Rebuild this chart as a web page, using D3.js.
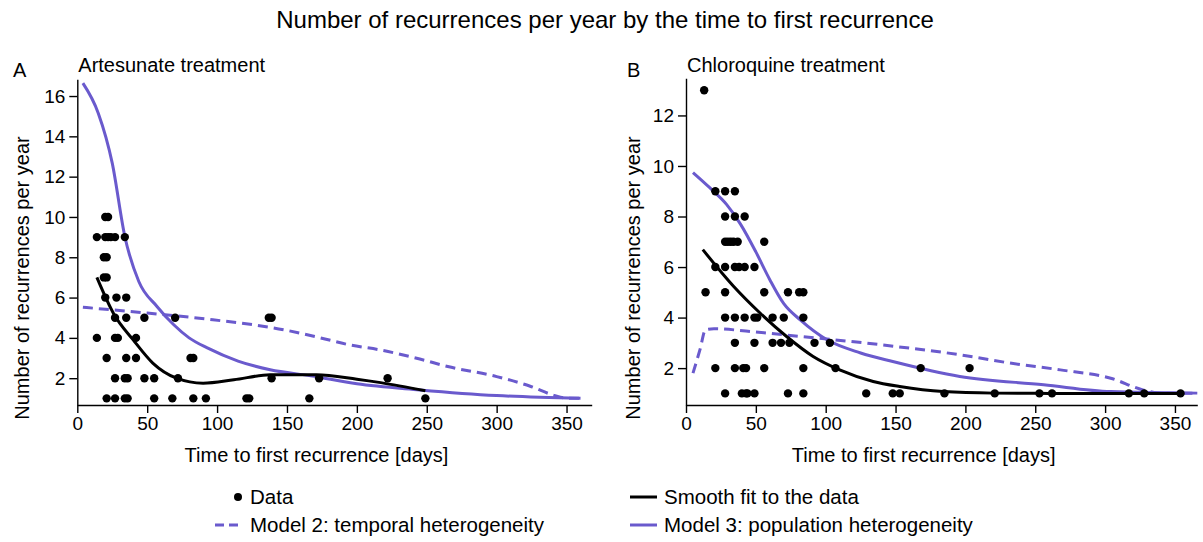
<!DOCTYPE html>
<html lang="en">
<head>
<meta charset="UTF-8" />
<title>Recurrences per year</title>
<script src="https://d3js.org/d3.v7.min.js"></script>
<style>
    body { margin: 0; background: #fff; }
    svg { font-family: "Liberation Sans", Arial, Helvetica, sans-serif; }
    .axis path, .axis line { stroke: #000; stroke-width: 1.4; }
    .axis text { font-size: 19px; fill: #000; }
</style>
</head>
<body>
<svg width="1203" height="542"></svg>
<script>
// ---- data ----
const xTicks = [0, 50, 100, 150, 200, 250, 300, 350];
const yTicksA = [2, 4, 6, 8, 10, 12, 14, 16];
const yTicksB = [2, 4, 6, 8, 10, 12];

// Panel A: artesunate, observed points
const artDays = [20, 22, 14, 20, 22, 24, 27, 34, 19, 21, 19, 21, 20, 28, 35,
    27, 35, 48, 70, 137, 139, 14, 27, 29, 42, 21, 35, 42, 81, 83,
    27, 34, 36, 48, 55, 72, 139, 173, 222,
    21, 27, 34, 36, 55, 68, 83, 92, 121, 123, 166, 249];
const artRec = [10, 10, 9, 9, 9, 9, 9, 9, 8, 8, 7, 7, 6, 6, 6,
    5, 5, 5, 5, 5, 5, 4, 4, 4, 4, 3, 3, 3, 3, 3,
    2, 2, 2, 2, 2, 2, 2, 2, 2,
    1, 1, 1, 1, 1, 1, 1, 1, 1, 1, 1, 1];

const artSmoothDays = [14, 26, 40, 54, 71, 90, 112, 138, 171, 200, 217, 249];
const artSmoothVals = [7.0, 5.2, 3.9, 2.75, 2.0, 1.75, 1.92, 2.17, 2.17, 1.95, 1.78, 1.38];

const artM2Days = [4, 50, 97, 148, 174, 195, 217, 245, 265, 300, 324, 341, 351, 360];
const artM2Vals = [5.52, 5.23, 4.9, 4.4, 4.0, 3.65, 3.4, 2.95, 2.58, 2.08, 1.6, 1.15, 1.0, 1.0];

const artM3Days = [4, 15, 25, 34, 44, 57, 69, 80, 93, 115, 138, 167, 200, 245, 300, 360];
const artM3Vals = [16.64, 15.15, 12.67, 9.03, 6.8, 5.56, 4.65, 4.0, 3.5, 2.85, 2.42, 2.12, 1.72, 1.42, 1.14, 1.0];

// Panel B: chloroquine, observed points
const chlDays = [13, 21, 28, 35, 28, 35, 42, 28, 30, 32, 34, 37, 56,
    21, 28, 35, 38, 42, 49, 14, 28, 56, 73, 81, 84,
    28, 35, 42, 49, 51, 62, 70, 84, 35, 49, 62, 68, 74, 92, 103,
    21, 35, 41, 43, 56, 84, 107, 168, 203,
    28, 40, 43, 44, 49, 73, 84, 129, 148, 153, 185, 221, 253, 262, 317, 328, 354];
const chlRec = [13, 9, 9, 9, 8, 8, 8, 7, 7, 7, 7, 7, 7,
    6, 6, 6, 6, 6, 6, 5, 5, 5, 5, 5, 5,
    4, 4, 4, 4, 4, 4, 4, 4, 3, 3, 3, 3, 3, 3, 3,
    2, 2, 2, 2, 2, 2, 2, 2, 2,
    1, 1, 1, 1, 1, 1, 1, 1, 1, 1, 1, 1, 1, 1, 1, 1, 1];

const chlSmoothDays = [12, 34, 53, 72, 91, 110, 134, 153, 184, 220, 260, 300, 354];
const chlSmoothVals = [6.69, 5.24, 4.18, 3.25, 2.46, 1.93, 1.47, 1.27, 1.07, 1.01, 1.0, 1.0, 1.0];

const chlM2Days = [5, 10, 14, 20, 46, 82, 117, 160, 196, 232, 268, 304, 327, 339, 365];
const chlM2Vals = [1.8, 2.73, 3.52, 3.56, 3.45, 3.25, 3.06, 2.79, 2.53, 2.2, 1.93, 1.6, 1.14, 1.01, 1.0];

const chlM3Days = [5, 17, 29, 39, 50, 60, 70, 82, 101, 125, 148, 196, 256, 304, 366];
const chlM3Vals = [9.74, 9.14, 8.48, 7.7, 6.6, 5.5, 4.55, 3.9, 3.12, 2.6, 2.26, 1.67, 1.34, 1.07, 1.01];

const purple = "#6a5acd";

const svg = d3.select("svg");

svg.append("text")
    .attr("x", 605)
    .attr("y", 28)
    .attr("text-anchor", "middle")
    .attr("font-size", "24px")
    .text("Number of recurrences per year by the time to first recurrence");

function zip(a, b) {
    return a.map((v, i) => ({ x: v, y: b[i] }));
}

function drawPanel(p) {
    const x = d3.scaleLinear().domain([0, p.xMax]).range([p.left, p.right]);
    const y = d3.scaleLinear().domain([p.yMin, p.yMax]).range([405, p.top]);
    const g = svg.append("g");

    g.append("g")
        .attr("class", "axis")
        .attr("transform", "translate(0,405)")
        .call(d3.axisBottom(x).tickValues(xTicks).tickSize(8).tickSizeOuter(0).tickPadding(4));

    g.append("g")
        .attr("class", "axis")
        .attr("transform", `translate(${p.left},0)`)
        .call(d3.axisLeft(y).tickValues(p.yTicks).tickSize(8).tickSizeOuter(0).tickPadding(4));

    const line = d3.line()
        .x(d => x(d.x))
        .y(d => y(d.y))
        .curve(d3.curveMonotoneX);

    g.append("path")
        .datum(zip(p.m2Days, p.m2Vals))
        .attr("d", line)
        .attr("fill", "none")
        .attr("stroke", purple)
        .attr("stroke-width", 3)
        .attr("stroke-dasharray", "10,6");

    g.append("path")
        .datum(zip(p.m3Days, p.m3Vals))
        .attr("d", line)
        .attr("fill", "none")
        .attr("stroke", purple)
        .attr("stroke-width", 3);

    g.append("path")
        .datum(zip(p.smDays, p.smVals))
        .attr("d", line)
        .attr("fill", "none")
        .attr("stroke", "#000")
        .attr("stroke-width", 3);

    g.selectAll("circle")
        .data(zip(p.days, p.rec))
        .enter()
        .append("circle")
        .attr("cx", d => x(d.x))
        .attr("cy", d => y(d.y))
        .attr("r", 4.2)
        .attr("fill", "#000");

    g.append("text")
        .attr("x", p.left + 1)
        .attr("y", 72)
        .attr("font-size", "20px")
        .text(p.title);

    g.append("text")
        .attr("x", p.letterX)
        .attr("y", 77)
        .attr("font-size", "20px")
        .text(p.letter);

    g.append("text")
        .attr("x", (p.left + p.right) / 2 - 18)
        .attr("y", 462)
        .attr("text-anchor", "middle")
        .attr("font-size", "20px")
        .text("Time to first recurrence [days]");

    g.append("text")
        .attr("transform", `translate(${p.ylabX},278) rotate(-90)`)
        .attr("text-anchor", "middle")
        .attr("font-size", "20px")
        .text("Number of recurrences per year");
}

drawPanel({
    left: 77.3, right: 591.7, top: 79.3, xMax: 368, yMin: 0.67, yMax: 16.83,
    yTicks: yTicksA, days: artDays, rec: artRec,
    smDays: artSmoothDays, smVals: artSmoothVals,
    m2Days: artM2Days, m2Vals: artM2Vals, m3Days: artM3Days, m3Vals: artM3Vals,
    title: "Artesunate treatment", letter: "A", letterX: 13, ylabX: 29
});

drawPanel({
    left: 686, right: 1197.3, top: 78.3, xMax: 366, yMin: 0.54, yMax: 13.47,
    yTicks: yTicksB, days: chlDays, rec: chlRec,
    smDays: chlSmoothDays, smVals: chlSmoothVals,
    m2Days: chlM2Days, m2Vals: chlM2Vals, m3Days: chlM3Days, m3Vals: chlM3Vals,
    title: "Chloroquine treatment", letter: "B", letterX: 627, ylabX: 640
});

// legend
const legend = svg.append("g").attr("font-size", "20.5px");
const items = [
    { label: "Data", kind: "dot", x: 215, y: 497 },
    { label: "Model 2: temporal heterogeneity", kind: "dash", x: 215, y: 525 },
    { label: "Smooth fit to the data", kind: "black", x: 630, y: 497 },
    { label: "Model 3: population heterogeneity", kind: "purple", x: 630, y: 525 }
];
items.forEach(it => {
    if (it.kind === "dot") {
        legend.append("circle").attr("cx", it.x + 23).attr("cy", it.y).attr("r", 4).attr("fill", "#000");
    } else {
        legend.append("line")
            .attr("x1", it.x).attr("x2", it.x + 27)
            .attr("y1", it.y).attr("y2", it.y)
            .attr("stroke", it.kind === "black" ? "#000" : purple)
            .attr("stroke-width", 3)
            .attr("stroke-dasharray", it.kind === "dash" ? "9,5" : null);
    }
    legend.append("text")
        .attr("x", it.kind === "dot" || it.kind === "dash" ? 250 : 664)
        .attr("y", it.y + 7)
        .text(it.label);
});
</script>
</body>
</html>
